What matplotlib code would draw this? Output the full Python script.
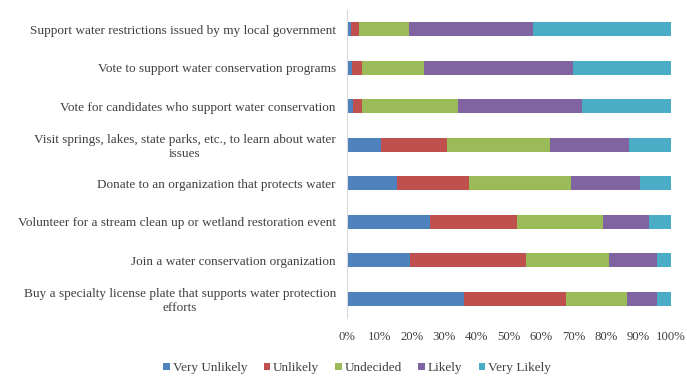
import matplotlib.pyplot as plt
import numpy as np

# Acciones de conservación (de arriba hacia abajo)
actions = [
    'Support water restrictions issued by my local government',
    'Vote to support water conservation programs',
    'Vote for candidates who support water conservation',
    'Visit springs, lakes, state parks, etc., to learn about water\nissues',
    'Donate to an organization that protects water',
    'Volunteer for a stream clean up or wetland restoration event',
    'Join a water conservation organization',
    'Buy a specialty license plate that supports water protection\nefforts',
]

levels = ['Very Unlikely', 'Unlikely', 'Undecided', 'Likely', 'Very Likely']

# Porcentajes por nivel de respuesta
very_unlikely = [1.2, 1.4, 1.7, 10.5, 15.5, 25.6, 19.4, 36.2]
unlikely = [2.5, 3.1, 2.9, 20.5, 22.0, 26.9, 35.8, 31.4]
undecided = [15.4, 19.3, 29.7, 31.6, 31.5, 26.6, 25.8, 18.7]
likely = [38.4, 46.1, 38.3, 24.3, 21.4, 14.2, 14.6, 9.3]
very_likely = [42.5, 30.1, 27.4, 13.1, 9.6, 6.7, 4.4, 4.4]

colors = ['#4F81BD', '#C0504D', '#9BBB59', '#8064A2', '#4BACC6']

plt.rcParams['font.family'] = ['Liberation Serif', 'DejaVu Serif']
fs = 9.5

fig = plt.figure(figsize=(6.87, 3.79), dpi=100)
ax = fig.add_axes([347 / 687, 1 - 318 / 379, 324 / 687, 308 / 379])

series = [very_unlikely, unlikely, undecided, likely, very_likely]
y = np.arange(len(actions))
left = np.zeros(len(actions))
for vals, color, name in zip(series, colors, levels):
    vals = np.array(vals)
    # barras apiladas
    ax.barh(y, vals, left=left, height=0.37, color=color, label=name)
    left += vals

ax.set_xlim(0, 100)
ax.set_ylim(len(actions) - 0.5, -0.5)
ax.set_yticks(y)
ax.set_yticklabels(actions, fontsize=fs, color='#404040', multialignment='center')
ax.set_xticks(np.arange(0, 101, 10))
ax.set_xticklabels([f'{v}%' for v in range(0, 101, 10)], fontsize=9.2, color='#404040')
ax.tick_params(axis='y', length=0, pad=8)
ax.tick_params(axis='x', length=0, pad=9)

for side in ['top', 'right', 'bottom']:
    ax.spines[side].set_visible(False)
ax.spines['left'].set_color('#D9D9D9')

fig.legend(loc='center', bbox_to_anchor=(357 / 687, 1 - 368 / 379), ncol=5,
           frameon=False, fontsize=fs, handlelength=0.5, handleheight=0.5,
           handletextpad=0.2, columnspacing=1.25, labelcolor='#404040')

fig.savefig('out.png', dpi=100)
